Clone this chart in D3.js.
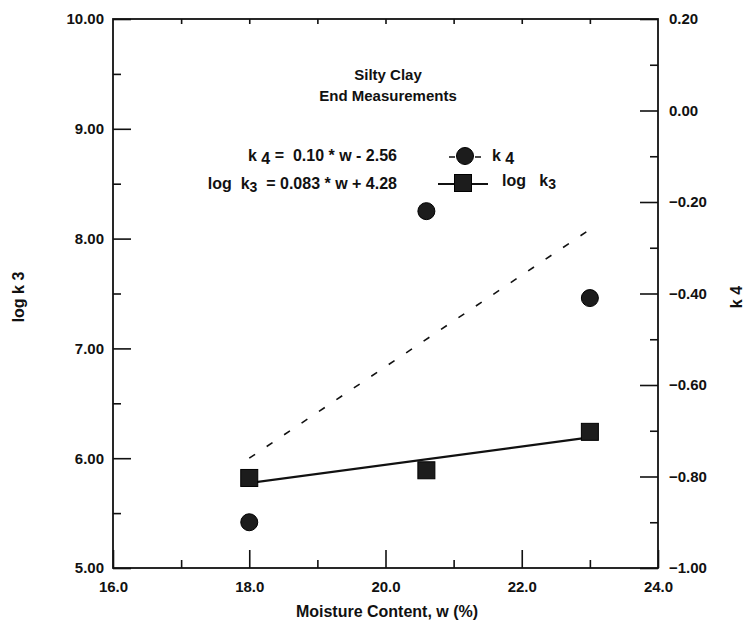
<!DOCTYPE html>
<html>
<head>
<meta charset="utf-8">
<script src="https://cdn.jsdelivr.net/npm/d3@7"></script>
<style>
  html, body { margin: 0; padding: 0; background: #fff; }
  svg { display: block; }
  text { font-family: "Liberation Sans", Arial, Helvetica, sans-serif; font-weight: bold; fill: #111; }
</style>
</head>
<body>
<script>
// ---- data ----
const moisture = [18.0, 20.6, 23.0];          // w (%)
const logK3 = [5.82, 5.89, 6.24];            // left axis series (squares)
const k4 = [-0.90, -0.22, -0.41];            // right axis series (circles)
const fitLogK3 = [0.083, 4.28];              // slope, intercept
const fitK4 = [0.10, -2.56];                 // slope, intercept
const fitRange = [18.0, 23.0];
const xMajor = [16, 18, 20, 22, 24];
const xMinor = [17, 19, 21, 23];
const xTop = [17, 18, 19, 20, 21, 22, 23];
const yLeftMajor = [5, 6, 7, 8, 9, 10];
const yLeftMinor = [5.5, 6.5, 7.5, 8.5, 9.5];
const yRightMajor = [-1.0, -0.8, -0.6, -0.4, -0.2, 0.0, 0.2];
const yRightMinor = [-0.9, -0.7, -0.5, -0.3, -0.1, 0.1];

const width = 754, height = 633;
const L = 113, R = 658, T = 19, B = 568;

const svg = d3.select("body").append("svg").attr("width", width).attr("height", height);

const x = d3.scaleLinear().domain([16, 24]).range([L, R]);
const yL = d3.scaleLinear().domain([5, 10]).range([B, T]);
const yR = d3.scaleLinear().domain([-1, 0.2]).range([B, T]);

function styleAxis(g) {
  g.select(".domain").remove();
  g.selectAll(".tick line").attr("stroke", "#111").attr("stroke-width", 1.6);
  g.selectAll(".tick text").style("font-size", "15px").attr("fill", "#111");
}

// bottom axis
svg.append("g").attr("transform", `translate(0,${B})`)
  .call(d3.axisBottom(x).tickValues(xMajor).tickSize(-18).tickPadding(13).tickFormat(d3.format(".1f")))
  .call(styleAxis);
svg.append("g").attr("transform", `translate(0,${B})`)
  .call(d3.axisBottom(x).tickValues(xMinor).tickSize(-8).tickFormat(""))
  .call(styleAxis);
// top small ticks
svg.append("g").attr("transform", `translate(0,${T})`)
  .call(d3.axisTop(x).tickValues(xTop).tickSize(-5).tickFormat(""))
  .call(styleAxis);

// left axis
svg.append("g").attr("transform", `translate(${L},0)`)
  .call(d3.axisLeft(yL).tickValues(yLeftMajor).tickSize(-18).tickPadding(9).tickFormat(d3.format(".2f")))
  .call(styleAxis);
svg.append("g").attr("transform", `translate(${L},0)`)
  .call(d3.axisLeft(yL).tickValues(yLeftMinor).tickSize(-8).tickFormat(""))
  .call(styleAxis);

// right axis
svg.append("g").attr("transform", `translate(${R},0)`)
  .call(d3.axisRight(yR).tickValues(yRightMajor).tickSize(-18).tickPadding(11).tickFormat(d3.format(".2f")))
  .call(styleAxis);
svg.append("g").attr("transform", `translate(${R},0)`)
  .call(d3.axisRight(yR).tickValues(yRightMinor).tickSize(-8).tickFormat(""))
  .call(styleAxis);

// frame
svg.append("rect").attr("x", L).attr("y", T).attr("width", R - L).attr("height", B - T)
  .attr("fill", "none").attr("stroke", "#111").attr("stroke-width", 1.8);

// fit lines
const fitPts = (c) => fitRange.map(w => [w, c[0] * w + c[1]]);
svg.append("path")
  .attr("d", d3.line().x(d => x(d[0])).y(d => yR(d[1]))(fitPts(fitK4)))
  .attr("fill", "none").attr("stroke", "#111").attr("stroke-width", 1.6)
  .attr("stroke-dasharray", "7,14");
svg.append("path")
  .attr("d", d3.line().x(d => x(d[0])).y(d => yL(d[1]))(fitPts(fitLogK3)))
  .attr("fill", "none").attr("stroke", "#111").attr("stroke-width", 2.2);

// markers
const sq = 17;
svg.append("g").selectAll("rect").data(moisture).join("rect")
  .attr("x", (d) => x(d) - sq / 2).attr("y", (d, i) => yL(logK3[i]) - sq / 2)
  .attr("width", sq).attr("height", sq)
  .attr("fill", "#1c1c1c").attr("stroke", "#000").attr("stroke-width", 1);
svg.append("g").selectAll("circle").data(moisture).join("circle")
  .attr("cx", d => x(d)).attr("cy", (d, i) => yR(k4[i])).attr("r", 8.5)
  .attr("fill", "#1c1c1c").attr("stroke", "#000").attr("stroke-width", 1);

// axis titles
svg.append("text").attr("transform", `translate(387,617)`).attr("text-anchor", "middle")
  .style("font-size", "16px").text("Moisture Content, w (%)");
svg.append("text").attr("transform", `translate(24,297) rotate(-90)`).attr("text-anchor", "middle")
  .style("font-size", "16px").text("log k 3");
svg.append("text").attr("transform", `translate(742,297) rotate(-90)`).attr("text-anchor", "middle")
  .style("font-size", "16px").text("k 4");

// title
svg.append("text").attr("x", 388).attr("y", 80).attr("text-anchor", "middle")
  .style("font-size", "15px").text("Silty Clay");
svg.append("text").attr("x", 388).attr("y", 101).attr("text-anchor", "middle")
  .style("font-size", "15px").text("End Measurements");

// equations
const eq1 = svg.append("text").attr("x", 397).attr("y", 161).attr("text-anchor", "end")
  .style("font-size", "16px").attr("xml:space", "preserve");
eq1.append("tspan").text("k ");
eq1.append("tspan").attr("dy", 3).text("4");
eq1.append("tspan").attr("dy", -3).text(" =  0.10 * w - 2.56");

const eq2 = svg.append("text").attr("x", 397).attr("y", 189).attr("text-anchor", "end")
  .style("font-size", "16px").attr("xml:space", "preserve");
eq2.append("tspan").text("log  k");
eq2.append("tspan").attr("dy", 3).style("font-size", "14px").text("3");
eq2.append("tspan").attr("dy", -3).text("  = 0.083 * w + 4.28");

// legend
const lg = svg.append("g");
lg.append("line").attr("x1", 449).attr("x2", 481).attr("y1", 157).attr("y2", 157)
  .attr("stroke", "#111").attr("stroke-width", 1.6).attr("stroke-dasharray", "6,20");
lg.append("circle").attr("cx", 465).attr("cy", 156).attr("r", 8.5).attr("fill", "#1c1c1c").attr("stroke", "#000");
const lt1 = lg.append("text").attr("x", 492).attr("y", 161).style("font-size", "16px");
lt1.append("tspan").text("k ");
lt1.append("tspan").attr("dy", 3).text("4");

lg.append("line").attr("x1", 438).attr("x2", 488).attr("y1", 184).attr("y2", 184)
  .attr("stroke", "#111").attr("stroke-width", 2.2);
lg.append("rect").attr("x", 463 - sq / 2).attr("y", 183 - sq / 2).attr("width", sq).attr("height", sq)
  .attr("fill", "#1c1c1c").attr("stroke", "#000");
const lt2 = lg.append("text").attr("x", 502).attr("y", 186).style("font-size", "16px").attr("xml:space", "preserve");
lt2.append("tspan").text("log   k");
lt2.append("tspan").attr("dy", 3).style("font-size", "14px").text("3");
</script>
</body>
</html>
